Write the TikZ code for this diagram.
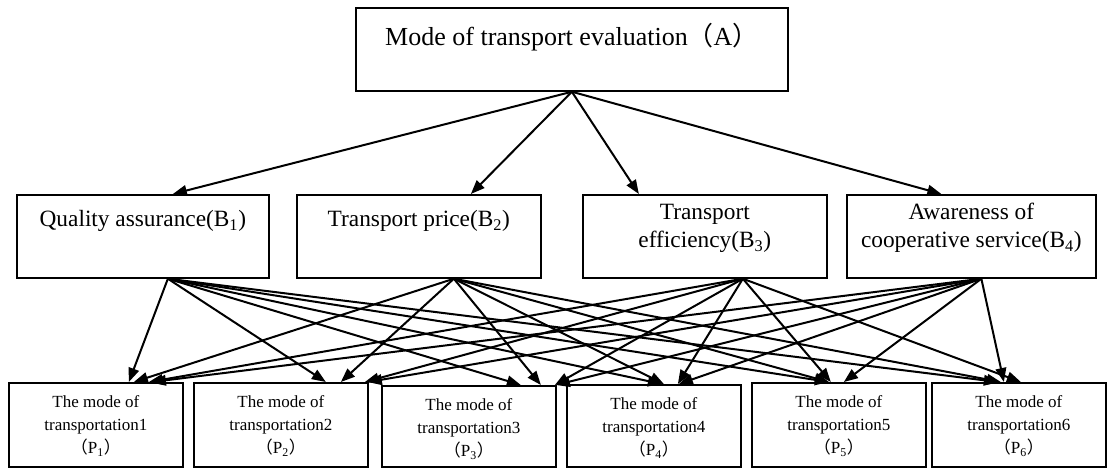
\documentclass[tikz,border=0pt]{standalone}
\usepackage{fontspec}
\setmainfont{Liberation Serif}
\newfontfamily\cjk{Noto Sans CJK SC}
\usetikzlibrary{arrows.meta,calc}
\newcommand\boxtxt[4]{\parbox[c][#2][t]{#1}{\centering\rule{0pt}{#3}#4}}
\newcommand\lp{{\cjk （}}
\newcommand\rp{{\cjk ）}}
\tikzset{
  box/.style={draw, line width=1.3pt, inner sep=0pt, anchor=north west},
  bigfont/.style={font=\fontsize{19.5pt}{24pt}\selectfont},
  midfont/.style={font=\fontsize{17.5pt}{21pt}\selectfont},
  smallfont/.style={font=\fontsize{12.75pt}{17.25pt}\selectfont},
  arr/.style={-{Triangle[length=10.5pt,width=8pt]}, line width=1.5pt},
}
\begin{document}
\begin{tikzpicture}[x=0.75pt,y=-0.75pt]
\useasboundingbox (0,0) rectangle (1108,468);
% top
\node[box,bigfont] (A) at (355,7) {\boxtxt{324pt}{62.25pt}{28.5pt}{Mode of transport evaluation\lp A\rp}};
% criteria
\node[box,midfont] (B1) at (16,194) {\boxtxt{189pt}{62.25pt}{24pt}{Quality assurance(B\textsubscript{1})}};
\node[box,midfont] (B2) at (296,194) {\boxtxt{183pt}{62.25pt}{24pt}{Transport price(B\textsubscript{2})}};
\node[box,midfont] (B3) at (582,194) {\boxtxt{183pt}{62.25pt}{18.75pt}{Transport\\efficiency(B\textsubscript{3})}};
\node[box,midfont] (B4) at (846,194) {\boxtxt{186.75pt}{62.25pt}{18.75pt}{Awareness of\\cooperative service(B\textsubscript{4})}};
% alternatives
\node[box,smallfont] (P1) at (8,382) {\boxtxt{130.5pt}{63pt}{18.75pt}{The mode of\\transportation1\\\lp P\textsubscript{1}\rp}};
\node[box,smallfont] (P2) at (193,382) {\boxtxt{130.5pt}{63pt}{18.75pt}{The mode of\\transportation2\\\lp P\textsubscript{2}\rp}};
\node[box,smallfont] (P3) at (381,385) {\boxtxt{130.5pt}{60.75pt}{18.75pt}{The mode of\\transportation3\\\lp P\textsubscript{3}\rp}};
\node[box,smallfont] (P4) at (566,384) {\boxtxt{130.5pt}{61.5pt}{18.75pt}{The mode of\\transportation4\\\lp P\textsubscript{4}\rp}};
\node[box,smallfont] (P5) at (751,382) {\boxtxt{130.5pt}{63pt}{18.75pt}{The mode of\\transportation5\\\lp P\textsubscript{5}\rp}};
\node[box,smallfont] (P6) at (931,382) {\boxtxt{130.5pt}{63pt}{18.75pt}{The mode of\\transportation6\\\lp P\textsubscript{6}\rp}};
% A -> B
\foreach \b/\o in {B1/30,B2/52,B3/-66,B4/-30}
  \draw[arr] (A.south) -- ($(\b.north)+(\o,0)$);
% B -> P
\foreach \b/\s/\p/\t in {
  B1/25/P1/33, B1/25/P2/45, B1/25/P3/52, B1/25/P4/8,  B1/25/P5/-10, B1/25/P6/-21,
  B2/35/P1/38, B2/35/P2/60, B2/35/P3/72, B2/35/P4/10, B2/35/P5/-10, B2/35/P6/-18,
  B3/38/P1/53, B3/38/P2/84, B3/38/P3/86, B3/38/P4/24, B3/38/P5/-8,  B3/38/P6/2,
  B4/10/P1/56, B4/10/P2/87, B4/10/P3/87, B4/10/P4/25, B4/10/P5/5,   B4/10/P6/-15}
  \draw[arr] ($(\b.south)+(\s,0)$) -- ($(\p.north)+(\t,0)$);
\end{tikzpicture}
\end{document}
